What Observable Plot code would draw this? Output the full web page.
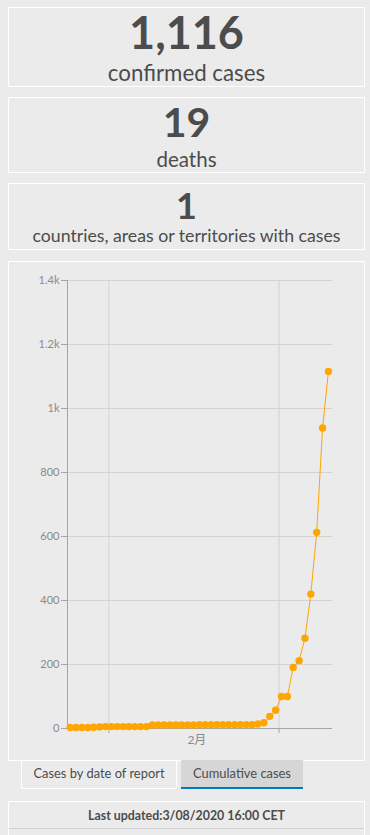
<!DOCTYPE html>
<html>
<head>
<meta charset="utf-8">
<script src="https://cdn.jsdelivr.net/npm/d3@7"></script>
<script src="https://cdn.jsdelivr.net/npm/@observablehq/plot@0.6"></script>
<style>
  html, body { margin: 0; padding: 0; background: #ebebeb; width: 370px; height: 835px; overflow: hidden; }
  body { position: relative; font-family: Lato, "Noto Sans", sans-serif; color: #4c4c4c; }
  .box { position: absolute; left: 8px; width: 357px; box-sizing: border-box; border: 1px solid #ffffff; }
  .t { position: absolute; left: 0; width: 373px; text-align: center; line-height: 1; white-space: nowrap; }
  .tab { position: absolute; box-sizing: border-box; font-size: 12.9px; text-align: center; }
</style>
</head>
<body>
<div class="box" style="top:7px;height:80px;"></div>
<div class="box" style="top:97px;height:76px;"></div>
<div class="box" style="top:183px;height:67px;"></div>
<div class="box" id="panel" style="top:261px;height:500px;"></div>

<div class="t" id="v1" style="top:10px;font-size:45px;font-weight:700;"></div>
<div class="t" id="l1" style="top:61.5px;font-size:22.3px;"></div>
<div class="t" id="v2" style="top:101px;font-size:41px;font-weight:700;"></div>
<div class="t" id="l2" style="top:148.5px;font-size:20.5px;"></div>
<div class="t" id="v3" style="top:186.5px;font-size:36px;font-weight:700;"></div>
<div class="t" id="l3" style="top:227px;font-size:17.7px;"></div>

<div id="chart" style="position:absolute;left:9px;top:262px;"></div>

<div class="tab" id="tab1" style="left:21px;top:760px;width:156px;height:29px;border:1px solid #fff;border-top:none;line-height:27px;"></div>
<div class="tab" id="tab2" style="left:181px;top:760px;width:122px;height:29px;background:#d6d6d6;border-bottom:2px solid #0079c1;line-height:27px;"></div>

<div class="box" style="top:801px;height:60px;"></div>
<div style="position:absolute;left:9px;top:828px;width:355px;height:1px;background:#d2d2d2;"></div>
<div class="t" id="upd" style="top:810px;font-size:12.4px;font-weight:700;"></div>

<script>
// KPI values and labels
const kpiValues = ["1,116", "19", "1"];
const kpiLabels = ["confirmed cases", "deaths", "countries, areas or territories with cases"];
const tabLabels = ["Cases by date of report", "Cumulative cases"];
const updatedText = "Last updated:3/08/2020 16:00 CET";

// Cumulative cases by report date
const reportDates = [
  "2020-01-25","2020-01-26","2020-01-27","2020-01-28","2020-01-29","2020-01-30","2020-01-31",
  "2020-02-01","2020-02-02","2020-02-03","2020-02-04","2020-02-05","2020-02-06","2020-02-07",
  "2020-02-08","2020-02-09","2020-02-10","2020-02-11","2020-02-12","2020-02-13","2020-02-14",
  "2020-02-15","2020-02-16","2020-02-17","2020-02-18","2020-02-19","2020-02-20","2020-02-21",
  "2020-02-22","2020-02-23","2020-02-24","2020-02-25","2020-02-26","2020-02-27","2020-02-28",
  "2020-02-29","2020-03-01","2020-03-02","2020-03-03","2020-03-04","2020-03-05","2020-03-06",
  "2020-03-07","2020-03-08","2020-03-09"
];
const cumulativeCases = [
  3, 3, 3, 3, 4, 5, 6,
  6, 6, 6, 6, 6, 6, 6,
  11, 11, 11, 11, 11, 11, 11,
  11, 12, 12, 12, 12, 12, 12,
  12, 12, 12, 12, 14, 18, 38,
  57, 100, 100, 191, 212, 282, 420,
  613, 939, 1116
];

// Axis ticks
const yTicks = [0, 200, 400, 600, 800, 1000, 1200, 1400];
const monthTicks = ["2020-02-01", "2020-03-01"];
const monthLabels = ["2月"];
const monthLabelDates = ["2020-02-16"];

document.getElementById("v1").textContent = kpiValues[0];
document.getElementById("v2").textContent = kpiValues[1];
document.getElementById("v3").textContent = kpiValues[2];
document.getElementById("l1").textContent = kpiLabels[0];
document.getElementById("l2").textContent = kpiLabels[1];
document.getElementById("l3").textContent = kpiLabels[2];
document.getElementById("tab1").textContent = tabLabels[0];
document.getElementById("tab2").textContent = tabLabels[1];
document.getElementById("upd").textContent = updatedText;

const data = reportDates.map((d, i) => ({date: new Date(d + "T10:00:00Z"), value: cumulativeCases[i]}));
const mTicks = monthTicks.map(d => new Date(d + "T00:00:00Z"));
const mLabels = monthLabels.map((t, i) => ({text: t, date: new Date(monthLabelDates[i] + "T00:00:00Z")}));
const xDomain = [new Date("2020-01-24T22:55:00Z"), new Date("2020-03-10T02:38:00Z")];
const fmtY = d => d >= 1000 ? (d / 1000) + "k" : String(d);

const chart = Plot.plot({
  width: 355,
  height: 497,
  marginLeft: 58,
  marginRight: 32,
  marginTop: 18,
  marginBottom: 31,
  style: {background: "transparent", fontFamily: "Lato, 'Noto Sans CJK SC', sans-serif", fontSize: "11px", color: "#8a8a8a", overflow: "visible"},
  x: {type: "utc", domain: xDomain, axis: null},
  y: {domain: [0, 1400], axis: null},
  marks: [
    Plot.gridY(yTicks, {stroke: "#d3d3d3", strokeOpacity: 1}),
    Plot.gridX(mTicks, {stroke: "#d3d3d3", strokeOpacity: 1}),
    Plot.axisX(mTicks, {tickSize: 5, tickFormat: () => "", stroke: "#a6a6a6", label: null}),
    Plot.axisY(yTicks, {tickSize: 6, tickPadding: 2, tickFormat: fmtY, stroke: "#a6a6a6", fill: "#8a8a8a", label: null}),
    Plot.ruleX([xDomain[0]], {stroke: "#a6a6a6"}),
    Plot.ruleY([0], {stroke: "#a6a6a6"}),
    Plot.text(mLabels, {x: "date", text: "text", frameAnchor: "bottom", dy: 15, fill: "#8a8a8a", fontSize: 12}),
    Plot.line(data, {x: "date", y: "value", stroke: "#ffa500", strokeWidth: 1}),
    Plot.dot(data, {x: "date", y: "value", r: 3.7, fill: "#ffa500"})
  ]
});
document.getElementById("chart").appendChild(chart);
</script>
</body>
</html>
